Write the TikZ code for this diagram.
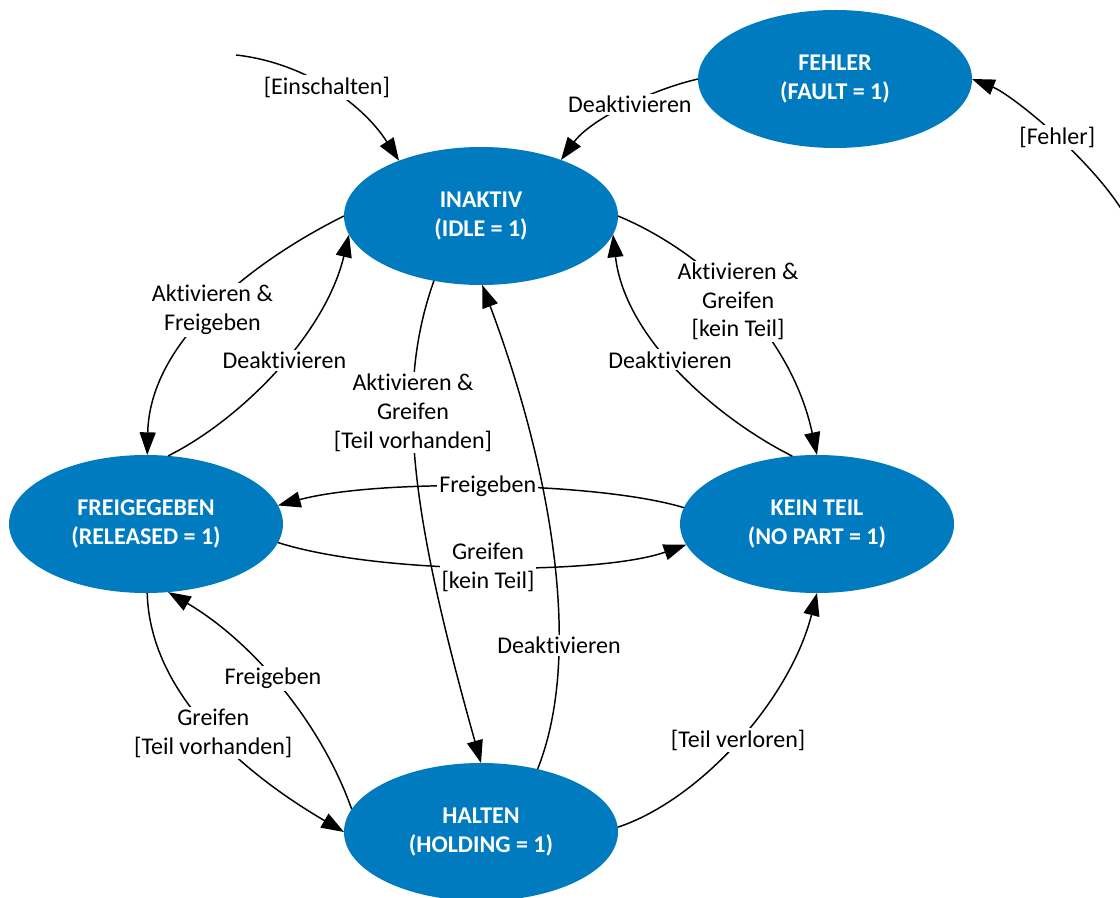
\documentclass[tikz,border=0pt]{standalone}
\usepackage{fontspec}
\setmainfont{Carlito}[Ligatures={NoCommon}]
\usetikzlibrary{shapes.geometric,arrows.meta}
\definecolor{stateblue}{RGB}{0,123,192}
\begin{document}
\begin{tikzpicture}[x=0.75pt,y=-0.75pt,
  state/.style={ellipse, fill=stateblue, minimum width=205.5pt, minimum height=103.5pt,
    inner sep=0pt, outer sep=0pt, text=white, align=center,
    font=\fontsize{18}{21.5}\selectfont\bfseries},
  trans/.style={-{Triangle[length=17pt,width=12pt]}, line width=1.1pt, draw=black},
  lbl/.style={fill=white, inner sep=1.5pt, text=black, align=center,
    font=\fontsize{18}{21.5}\selectfont}]
\clip (0,0) rectangle (1120,898);
\fill[white] (0,0) rectangle (1120,898);

% states
\node[state] (fehler)      at (835,79)  {FEHLER\\(FAULT = 1)};
\node[state] (inaktiv)     at (481,216) {INAKTIV\\(IDLE = 1)};
\node[state] (freigegeben) at (146,524) {FREIGEGEBEN\\(RELEASED = 1)};
\node[state] (keinteil)    at (817,524) {KEIN TEIL\\(NO PART = 1)};
\node[state] (halten)      at (481,832) {HALTEN\\(HOLDING = 1)};

% free ends of the entry transitions
\coordinate (start)    at (236,55);
\coordinate (fehlerIn) at (1132,228);

% transitions
\draw[trans] (start) .. controls (300,62) and (360,100) .. (inaktiv.146)
  node[lbl,pos=0.5] {[Einschalten]};
\draw[trans] (fehler.180) .. controls (650,90) and (590,120) .. (inaktiv.35)
  node[lbl,pos=0.45] {Deaktivieren};
\draw[trans] (fehlerIn) .. controls (1105,170) and (1013,95) .. (fehler.0)
  node[lbl,pos=0.5] {[Fehler]};

\draw[trans] (inaktiv.180) .. controls (265,255) and (150,335) .. (freigegeben.89)
  node[lbl,pos=0.52] {Aktivieren \&\\Freigeben};
\draw[trans] (freigegeben.72) .. controls (240,420) and (325,335) .. (inaktiv.188)
  node[lbl,pos=0.54] {Deaktivieren};

\draw[trans] (inaktiv.0) .. controls (700,250) and (790,330) .. (keinteil.90)
  node[lbl,pos=0.5] {Aktivieren \&\\Greifen\\{}[kein Teil]};
\draw[trans] (keinteil.110) .. controls (720,420) and (625,340) .. (inaktiv.352)
  node[lbl,pos=0.55] {Deaktivieren};

\draw[trans] (keinteil.173) .. controls (600,482) and (380,478) .. (freigegeben.8)
  node[lbl,pos=0.5] {Freigeben};
\draw[trans] (freigegeben.352) .. controls (380,575) and (600,575) .. (keinteil.189)
  node[lbl,pos=0.5] {Greifen\\{}[kein Teil]};

\draw[trans] (inaktiv.234) .. controls (395,390) and (410,510) .. (halten.90)
  node[lbl,pos=0.37] {Aktivieren \&\\Greifen\\{}[Teil vorhanden]};
\draw[trans] (halten.48) .. controls (585,650) and (548,460) .. (inaktiv.271)
  node[lbl,pos=0.3] {Deaktivieren};

\draw[trans] (freigegeben.271) .. controls (150,700) and (255,780) .. (halten.180)
  node[lbl,pos=0.5] {Greifen\\{}[Teil vorhanden]};
\draw[trans] (halten.170) .. controls (320,720) and (250,640) .. (freigegeben.288)
  node[lbl,pos=0.53] {Freigeben};

\draw[trans] (halten.2) .. controls (700,800) and (790,700) .. (keinteil.270)
  node[lbl,pos=0.5] {[Teil verloren]};
\end{tikzpicture}
\end{document}
